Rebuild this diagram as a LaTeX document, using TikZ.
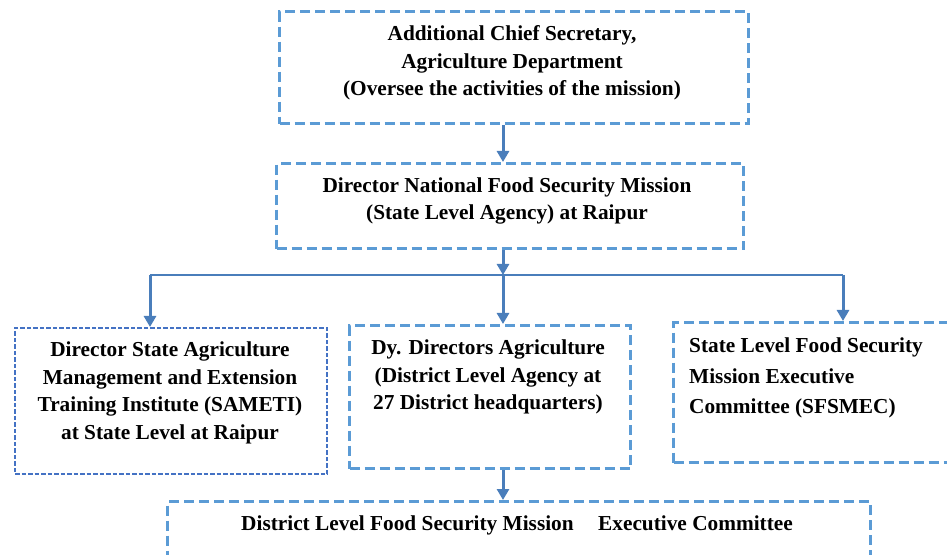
\documentclass[tikz,border=0pt]{standalone}
\usepackage{fontspec}
\setmainfont{Liberation Serif}
\usetikzlibrary{arrows.meta}
\definecolor{boxblue}{HTML}{5B9BD5}
\definecolor{darkbox}{HTML}{4472C4}
\definecolor{arrblue}{HTML}{4A7EBB}
\tikzset{
  thickbox/.style={draw=boxblue, line width=3.2bp, dash pattern=on 10bp off 5bp, rectangle, inner sep=0pt},
  finebox/.style={draw=darkbox, line width=2bp, dash pattern=on 4.5bp off 2bp, rectangle, inner sep=0pt},
  txt/.style={font=\fontsize{21.3bp}{27.5bp}\selectfont\bfseries, align=center, inner sep=0pt, text=black},
  txtl/.style={txt, align=left, font=\fontsize{21.3bp}{30.5bp}\selectfont\bfseries},
  arr/.style={draw=arrblue, line width=3bp, -{Triangle[length=11bp,width=12bp]}},
  thinline/.style={draw=arrblue, line width=1.6bp},
}
\begin{document}
\begin{tikzpicture}[x=1bp,y=-1bp]
\useasboundingbox (0,0) rectangle (947,555);
\clip (0,0) rectangle (947,555);
% boxes
\node[thickbox, minimum width=469bp, minimum height=112bp, anchor=north west] (b1) at (278,10) {};
\node[thickbox, minimum width=467bp, minimum height=85bp, anchor=north west] (b2) at (275,162) {};
\node[finebox, minimum width=312bp, minimum height=146bp, anchor=north west] (sam) at (14,327) {};
\node[thickbox, minimum width=281bp, minimum height=143bp, anchor=north west] (dy) at (348,324) {};
\node[thickbox, minimum width=300bp, minimum height=140bp, anchor=north west] (sf) at (672,321) {};
\node[thickbox, minimum width=703bp, minimum height=120bp, anchor=north west] (dl) at (166,500) {};
% texts
\node[txt] (t1) at (512,63) {Additional Chief Secretary,\\Agriculture Department\\(Oversee the activities of the mission)};
\node[txt] (t2) at (507,201) {Director National Food Security Mission\\(State Level Agency) at Raipur};
\node[txt] (t3) at (170,393) {Director State Agriculture\\Management and Extension\\Training Institute (SAMETI)\\at State Level at Raipur};
\node[txt] (t4) at (488,377) {Dy. Directors Agriculture\\(District Level Agency at\\27 District headquarters)};
\node[txtl, anchor=west] (t5) at (689,378) {State Level Food Security\\Mission Executive\\Committee (SFSMEC)};
\node[txt] (t6) at (517,525) {District Level Food Security Mission\hspace{0.9em} Executive Committee};
% connectors
\coordinate (jl) at (150,275);
\coordinate (jm) at (503,275);
\coordinate (jr) at (843,275);
\draw[thinline] (jl) -- (jr);
\draw[arr] (b1.south -| jm) -- (b2.north -| jm);
\draw[arr] (b2.south -| jm) -- (jm);
\draw[arr] (jm) -- (dy.north -| jm);
\draw[arr] (jl) -- (sam.north -| jl);
\draw[arr] (jr) -- (sf.north -| jr);
\draw[arr] (dy.south -| jm) -- (dl.north -| jm);
\end{tikzpicture}
\end{document}
